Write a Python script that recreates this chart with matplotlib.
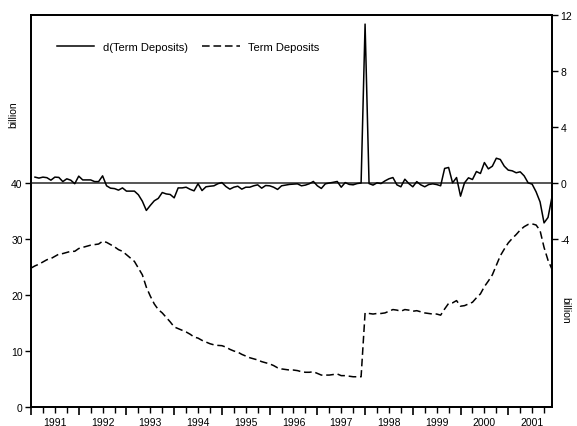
import matplotlib
matplotlib.use("Agg")
import matplotlib.pyplot as plt
from matplotlib.ticker import FixedLocator, FixedFormatter
import numpy as np

plt.rcParams['font.family'] = ['Liberation Sans', 'DejaVu Sans']

# Monthly observations 1991M01 .. 2001M12 (132 months)
term_deposits = [
    24.8, 25.2, 25.5, 25.9, 26.3, 26.5, 26.9, 27.3, 27.4, 27.6, 27.8, 27.8,
    28.3, 28.5, 28.7, 28.9, 29.0, 29.1, 29.6, 29.4, 29.0, 28.6, 28.1, 27.8,
    27.2, 26.6, 26.0, 24.8, 23.6, 21.4, 19.8, 18.4, 17.4, 16.8, 16.0, 15.2,
    14.3, 14.0, 13.7, 13.4, 13.0, 12.5, 12.3, 11.9, 11.6, 11.3, 11.1, 11.0,
    10.95, 10.7, 10.3, 10.0, 9.8, 9.4, 9.1, 8.8, 8.6, 8.4, 8.1, 7.9,
    7.7, 7.4, 7.0, 6.8, 6.7, 6.6, 6.6, 6.5, 6.3, 6.2, 6.2, 6.3,
    6.0, 5.7, 5.7, 5.7, 5.8, 5.9, 5.6, 5.6, 5.5, 5.4, 5.4, 5.4,
    16.8, 16.7, 16.6, 16.7, 16.7, 16.8, 17.1, 17.4, 17.3, 17.1, 17.4, 17.3,
    17.1, 17.2, 17.0, 16.8, 16.7, 16.6, 16.6, 16.4, 17.5, 18.5, 18.6, 19.0,
    18.0, 18.1, 18.4, 18.7, 19.5, 20.2, 21.5, 22.5, 23.6, 25.3, 27.0, 28.2,
    29.3, 30.1, 30.8, 31.6, 32.2, 32.6, 32.7, 32.5, 31.5, 28.5, 26.2, 24.6,
]

d_term_deposits = [
    np.nan, 0.42, 0.35, 0.42, 0.38, 0.20, 0.42, 0.40, 0.10, 0.30, 0.20, -0.05,
    0.49, 0.22, 0.22, 0.22, 0.10, 0.10, 0.51, -0.20, -0.37, -0.40, -0.51, -0.35,
    -0.58, -0.58, -0.58, -0.84, -1.30, -1.96, -1.60, -1.27, -1.10, -0.68, -0.78, -0.82,
    -1.06, -0.35, -0.35, -0.30, -0.45, -0.56, -0.05, -0.54, -0.27, -0.23, -0.20, -0.05,
    0.03, -0.25, -0.44, -0.30, -0.23, -0.44, -0.30, -0.30, -0.20, -0.13, -0.37, -0.18,
    -0.20, -0.30, -0.46, -0.20, -0.15, -0.10, -0.08, -0.06, -0.20, -0.15, -0.05, 0.11,
    -0.20, -0.39, -0.06, 0.00, 0.05, 0.11, -0.30, 0.03, -0.10, -0.13, -0.04, 0.00,
    11.35, -0.04, -0.15, 0.01, -0.04, 0.15, 0.30, 0.39, -0.13, -0.27, 0.27, -0.04,
    -0.27, 0.10, -0.13, -0.27, -0.11, -0.06, -0.11, -0.20, 1.04, 1.11, 0.01, 0.39,
    -0.94, 0.01, 0.37, 0.25, 0.82, 0.68, 1.46, 1.01, 1.20, 1.77, 1.68, 1.20,
    0.92, 0.87, 0.73, 0.80, 0.51, 0.01, -0.08, -0.63, -1.35, -2.85, -2.46, -0.99,
]

years = [str(y) for y in range(1991, 2002)]
left_ticks = [0, 10, 20, 30, 40]
right_ticks = [-4, 0, 4, 8, 12]

n = len(term_deposits)
x = np.arange(n)

fig = plt.figure(figsize=(5.77, 4.27), dpi=100)
ax = fig.add_axes([31/577, 19/427, 521/577, 392/427])
ax2 = ax.twinx()

ax.plot(x, term_deposits, color='black', lw=1.1, linestyle=(0, (5, 2.5)))
ax2.axhline(0, color='#555555', lw=1.4, zorder=1)
ax2.plot(x, d_term_deposits, color='black', lw=1.1, zorder=2)

ax.set_xlim(0, n - 1)
ax.set_ylim(0, 70)
ax2.set_ylim(-16, 12)

ax.set_yticks(left_ticks)
ax.set_yticklabels([str(v) for v in left_ticks])
ax2.set_yticks(right_ticks)
ax2.set_yticklabels([str(v) for v in right_ticks])

major = list(range(0, n, 12))
minor = [m for m in range(0, n, 3) if m % 12 != 0]
ax.xaxis.set_major_locator(FixedLocator(major))
ax.xaxis.set_major_formatter(FixedFormatter([''] * len(major)))
ax.xaxis.set_minor_locator(FixedLocator(minor))
minor_labels = []
for m in minor:
    if m % 12 == 6:
        minor_labels.append(years[m // 12])
    else:
        minor_labels.append('')
ax.xaxis.set_minor_formatter(FixedFormatter(minor_labels))

ax.tick_params(axis='x', which='major', length=6, width=1.2, direction='out', labelsize=7.5, pad=1)
ax.tick_params(axis='x', which='minor', length=4, width=1.0, direction='out', labelsize=7.5, pad=3)
ax.tick_params(axis='y', length=4, width=1.0, direction='out', labelsize=7.5, pad=2)
ax2.tick_params(axis='y', length=4, width=1.0, direction='out', labelsize=7.5, pad=2)

for a in (ax, ax2):
    for s in a.spines.values():
        s.set_linewidth(1.3)
        s.set_color('black')

fig.text(13/577, 1 - 115/427, 'billion', rotation=90, ha='center', va='center', fontsize=7.5)
fig.text(565/577, 1 - 310/427, 'billion', rotation=270, ha='center', va='center', fontsize=7.5)

h1 = ax2.lines[-1]
h2 = ax.lines[0]
ax2.legend([h1, h2], ['d(Term Deposits)', 'Term Deposits'], ncol=2, frameon=False,
           loc='upper left', bbox_to_anchor=(0.03, 0.957), fontsize=8,
           handlelength=3.4, columnspacing=1.3, handletextpad=0.75)

fig.savefig('out.png', dpi=100)
